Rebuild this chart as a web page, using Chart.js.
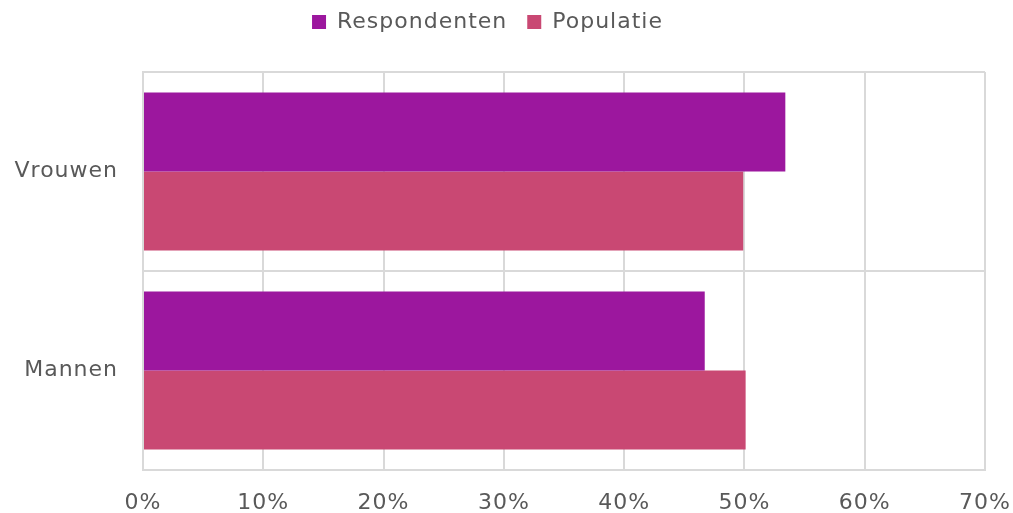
<!DOCTYPE html>
<html>
<head>
<meta charset="utf-8">
<script src="https://cdn.jsdelivr.net/npm/chart.js@4/dist/chart.umd.min.js"></script>
<style>
  html, body { margin: 0; padding: 0; background: #fff; }
  #wrap { width: 1013px; height: 513px; }
</style>
</head>
<body>
<div id="wrap"><canvas id="grafiek"></canvas></div>
<script>
// gegevens uit de figuur (percentages)
const categorieen = ['Vrouwen', 'Mannen'];
const respondenten = [53.4, 46.7];
const populatie = [49.9, 50.1];
const xTicks = [0, 10, 20, 30, 40, 50, 60, 70];

const tekstKleur = '#595959';
const gridKleur = '#d9d9d9';
const lettertype = "'DejaVu Sans', Verdana, sans-serif";

// iets meer letterafstand, zoals in het origineel
function spatiering(chart) {
    if ('letterSpacing' in chart.ctx) chart.ctx.letterSpacing = '1px';
}

// extra ruimte onder de legenda, legenda iets naar links
const legendaRuimte = {
    id: 'legendaRuimte',
    beforeUpdate: spatiering,
    beforeLayout(chart) {
        spatiering(chart);
        const lg = chart.legend;
        if (lg && !lg._extraRuimte) {
            const fit = lg.fit;
            lg.fit = function () { fit.call(this); this.height += 29; };
            lg._extraRuimte = true;
        }
    },
    afterLayout(chart) {
        if (chart.legend) {
            chart.legend.left -= 19;
            chart.legend.right -= 19;
        }
    },
    beforeDraw: spatiering
};

new Chart(document.getElementById('grafiek'), {
    type: 'bar',
    data: {
        labels: categorieen,
        datasets: [{
            label: 'Respondenten',
            data: respondenten,
            backgroundColor: '#9c179e',
            borderWidth: 0,
            categoryPercentage: 0.793,
            barPercentage: 1
        }, {
            label: 'Populatie',
            data: populatie,
            backgroundColor: '#c94873',
            borderWidth: 0,
            categoryPercentage: 0.793,
            barPercentage: 1
        }]
    },
    options: {
        indexAxis: 'y',
        responsive: true,
        maintainAspectRatio: false,
        animation: false,
        layout: { padding: { top: -9, right: 0, bottom: 0, left: 0 } },
        plugins: {
            tooltip: { enabled: false },
            legend: {
                position: 'top',
                labels: {
                    color: tekstKleur,
                    font: { family: lettertype, size: 22 },
                    boxWidth: 14,
                    boxHeight: 14,
                    padding: 20
                }
            }
        },
        scales: {
            x: {
                min: 0,
                max: 70,
                afterBuildTicks: (s) => { s.ticks = xTicks.map(v => ({ value: v })); },
                afterFit: (s) => { s.height = 43; s.paddingRight = 28; },
                ticks: {
                    color: tekstKleur,
                    font: { family: lettertype, size: 22 },
                    padding: 20,
                    callback: (v) => v + '%'
                },
                grid: { color: gridKleur, lineWidth: 2, drawTicks: false },
                border: { color: gridKleur, width: 2 }
            },
            y: {
                afterFit: (s) => { s.width = 143; },
                ticks: {
                    color: tekstKleur,
                    font: { family: lettertype, size: 22 },
                    padding: 25
                },
                grid: { color: gridKleur, lineWidth: 2, drawTicks: false, offset: true },
                border: { color: gridKleur, width: 2 }
            }
        }
    },
    plugins: [legendaRuimte]
});
</script>
</body>
</html>
